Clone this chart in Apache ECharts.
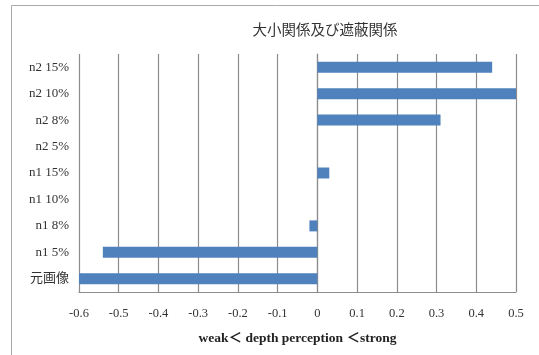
<!DOCTYPE html>
<html>
<head>
<meta charset="utf-8">
<script src="https://cdn.jsdelivr.net/npm/echarts@6/dist/echarts.min.js"></script>
<style>
  html, body { margin: 0; padding: 0; background: #fff; }
  #chart1 { width: 539px; height: 355px; }
</style>
</head>
<body>
<div id="chart1"></div>
<script>
// categories bottom -> top
const categories = ['元画像', 'n1 5%', 'n1 8%', 'n1 10%', 'n1 15%', 'n2 5%', 'n2 8%', 'n2 10%', 'n2 15%'];
const values = [-0.6, -0.54, -0.02, 0, 0.03, 0, 0.31, 0.5, 0.44];
const xTicks = { min: -0.6, max: 0.5, step: 0.1 };

const serif = '"Liberation Serif", "DejaVu Serif", "Noto Sans CJK JP", serif';

let myChart = echarts.init(document.getElementById('chart1'));
const option = {
    animation: false,
    title: {
        text: '大小関係及び遮蔽関係',
        left: 320,
        textAlign: 'center',
        top: 19,
        textStyle: { fontFamily: serif, fontSize: 14.5, fontWeight: 'normal', color: '#333' }
    },
    graphic: [{
        type: 'rect',
        shape: { x: 11.5, y: 5.5, width: 540, height: 360 },
        style: { fill: null, stroke: '#aaa', lineWidth: 1 },
        silent: true
    }],
    grid: { left: 79, right: 23, top: 54, bottom: 63 },
    xAxis: {
        type: 'value',
        min: xTicks.min,
        max: xTicks.max,
        interval: xTicks.step,
        axisLine: { show: true, lineStyle: { color: '#8c8c8c' } },
        axisTick: { show: false },
        splitLine: { show: true, lineStyle: { color: '#8c8c8c', width: 1.2 } },
        axisLabel: {
            fontFamily: serif, fontSize: 12.5, color: '#333', margin: 15,
            formatter: v => String(Math.round(v * 10) / 10)
        },
        name: 'weak＜ depth perception ＜strong',
        nameLocation: 'middle',
        nameGap: 40,
        nameTextStyle: { fontFamily: serif, fontSize: 13.5, fontWeight: 'bold', color: '#222' }
    },
    yAxis: {
        type: 'category',
        data: categories,
        axisLine: { show: true, lineStyle: { color: '#8c8c8c', width: 1.2 } },
        axisTick: { show: false },
        axisLabel: { fontFamily: serif, fontSize: 13, color: '#333', margin: 10 }
    },
    series: [{
        type: 'bar',
        data: values,
        barWidth: 11,
        itemStyle: { color: '#4F81BD' }
    }]
};
myChart.setOption(option);
</script>
</body>
</html>
